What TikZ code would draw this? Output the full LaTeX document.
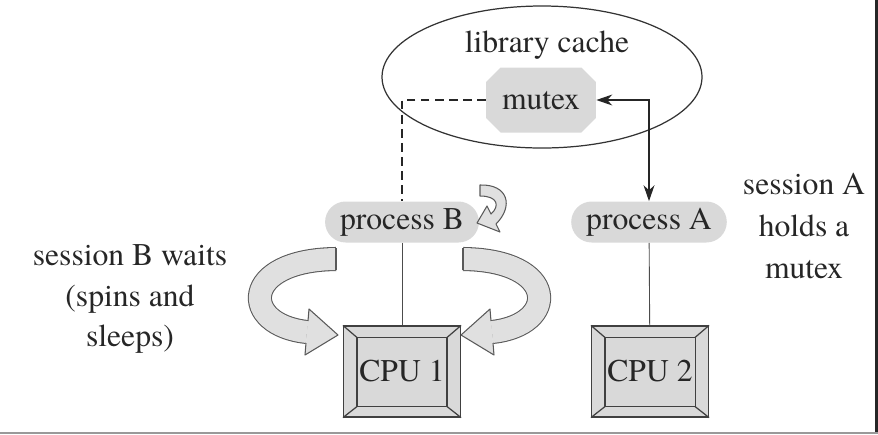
\documentclass[tikz,border=0pt]{standalone}
\usepackage{fontspec}
\setmainfont{TeX Gyre Termes}
\usepackage{tikz}
\usetikzlibrary{shapes.misc,arrows.meta}
\tikzset{proc/.style={rectangle, rounded corners=0.41cm, fill=black!15,
      minimum height=0.82cm, inner xsep=0.3cm, inner ysep=0pt}}
\tikzset{cpu/.style={rectangle, draw=black!75, fill=black!15, line width=0.7pt,
      minimum width=2.34cm, minimum height=1.82cm, inner sep=0pt}}
\tikzset{blockarrow/.style={draw=black!65, line width=0.6pt, line join=round}}
\tikzset{band/.style={line width=12.5pt, draw=black!12}}
\tikzset{bandedge/.style={line width=13.7pt, draw=black!65}}
\newcommand{\cpubevel}[1]{
    \coordinate (#1-a) at ([shift={(14,12)}]#1.north west);
    \coordinate (#1-b) at ([shift={(-14,-11)}]#1.south east);
    \draw[black!75, line width=0.7pt] (#1-a) rectangle (#1-b);
    \draw[black!75, line width=0.7pt] (#1.north west) -- (#1-a)
      (#1.south east) -- (#1-b)
      (#1.north east) -- (#1-a -| #1-b)
      (#1.south west) -- (#1-a |- #1-b);}
\newcommand{\bentarrow}{
    \draw[bandedge] (336,259) .. controls (240,260) and (240,325) .. (307,332);
    \draw[band] (336,259) .. controls (240,260) and (240,325) .. (307,332);
    \fill[black!12] (308,321) -- (309,309) -- (338,335) -- (305,355) -- (306,343) -- cycle;
    \draw[blockarrow] (308,321) -- (309,309) -- (338,335) -- (305,355) -- (306,343);
    \draw[blockarrow] (336,248) -- (336,270);}

\begin{document}
\begin{tikzpicture}[x=0.02cm, y=-0.02cm, font=\fontsize{18}{23}\selectfont, text=black!85]
    \useasboundingbox (0,0) rectangle (878,434);
    % frame of the scan
    \draw[black!85, line width=1.7pt] (876,0) -- (876,432);
    \draw[black!40, line width=1.2pt] (0,433) -- (878,433);

    % library cache with the mutex
    \draw[black!80, line width=0.7pt] (542,77) ellipse (160 and 71);
    \node (cache) at (547,45) {library cache};
    \node[chamfered rectangle, chamfered rectangle xsep=0.26cm, fill=black!15,
      minimum width=2.2cm, minimum height=1.3cm, inner sep=0pt] (mutex) at (541,100) {mutex};

    % processes and cpus
    \node[proc] (procB) at (402,222) {process B};
    \node[proc] (procA) at (649,222) {process A};
    \node[cpu] (cpu1) at (402,371.5) {};
    \node[cpu] (cpu2) at (650,371.5) {};
    \cpubevel{cpu1}
    \cpubevel{cpu2}
    \node at (cpu1) {CPU 1};
    \node at (cpu2) {CPU 2};

    \draw[black!70, line width=0.5pt] (procB) -- (cpu1);
    \draw[black!70, line width=0.5pt] (procA) -- (cpu2);
    \draw[black!85, line width=0.6pt, dash pattern=on 5pt off 3pt] (mutex.west) -| (procB.north);
    \draw[<->, >={Stealth[length=0.32cm, width=0.22cm]}, black!85, line width=0.7pt]
      (mutex.east) -| (procA.north);

    % spinning
    \bentarrow
    \begin{scope}[shift={(799,0)}, xscale=-1]
      \bentarrow
    \end{scope}
    \filldraw[blockarrow, fill=black!12] (480,185) .. controls (508,184) and (514,206) .. (496,224)
      -- (500,232) -- (477,223) -- (487,206) -- (491,214)
      .. controls (500,206) and (498,196) .. (480,196) -- cycle;

    % notes
    \node[align=center, font=\fontsize{18}{23.3}\selectfont] (noteB) at (130,299)
      {session B waits\\(spins and\\sleeps)};
    \node[align=center, font=\fontsize{18}{23.8}\selectfont] (noteA) at (804,226)
      {session A\\holds a\\mutex};
\end{tikzpicture}
\end{document}
